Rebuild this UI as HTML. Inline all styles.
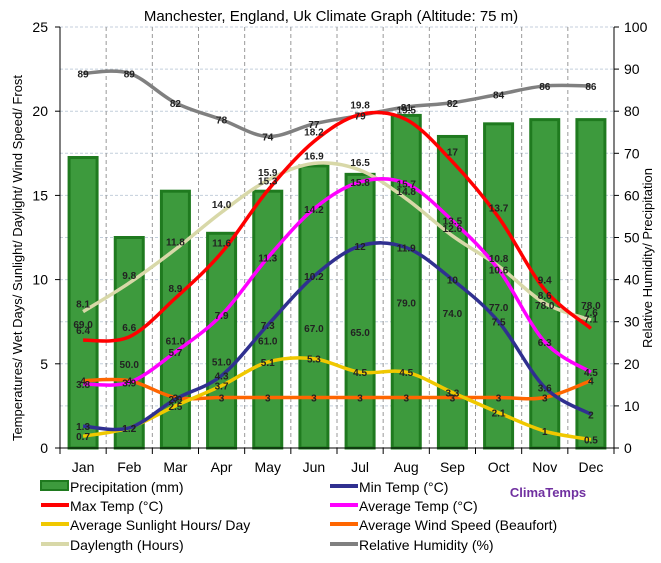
<!DOCTYPE html>
<html><head><meta charset="utf-8"><style>
body{margin:0;background:#fff;}
text{font-family:"Liberation Sans",sans-serif;}
</style></head><body>
<svg id="chart" width="661" height="558" xmlns="http://www.w3.org/2000/svg">
<rect width="661" height="558" fill="#fff"/>
<text x="331" y="21" text-anchor="middle" font-size="15">Manchester, England, Uk Climate Graph (Altitude: 75 m)</text>
<g id="grid"></g><g id="bars"></g><g id="lines"></g><g id="labels"></g><g id="axes"></g>
<text transform="translate(22,258) rotate(-90)" text-anchor="middle" font-size="13">Temperatures/ Wet Days/ Sunlight/ Daylight/ Wind Speed/ Frost</text>
<text transform="translate(652,258) rotate(-90)" text-anchor="middle" font-size="13">Relative Humidity/ Precipitation</text>
<g id="legend" font-size="14"></g>
<text x="548" y="497" text-anchor="middle" font-size="13" font-weight="bold" fill="#7030a0">ClimaTemps</text>
</svg>
<script>
const months=["Jan","Feb","Mar","Apr","May","Jun","Jul","Aug","Sep","Oct","Nov","Dec"];
const precip=[69,50,61,51,61,67,65,79,74,77,78,78];
const maxTemp=[6.4,6.6,8.9,11.6,15.3,18.2,19.8,19.5,17,13.7,9.4,7.1];
const minTemp=[1.3,1.2,2.9,4.3,7.3,10.2,12,11.9,10,7.5,3.6,2];
const avgTemp=[3.8,3.9,5.7,7.9,11.3,14.2,15.8,15.7,13.5,10.6,6.3,4.5];
const sunlight=[0.7,1.2,2.5,3.7,5.1,5.3,4.5,4.5,3.3,2.1,1.0,0.5];
const wind=[4,4,3,3,3,3,3,3,3,3,3,4];
const daylength=[8.1,9.8,11.8,14.0,15.9,16.9,16.5,14.8,12.6,10.8,8.6,7.6];
const humidity=[89,89,82,78,74,77,79,81,82,84,86,86];
const leftTicks=[0,5,10,15,20,25];
const rightTicks=[0,10,20,30,40,50,60,70,80,90,100];

const X0=60,X1=614,Y0=448,Y1=27,NS="http://www.w3.org/2000/svg";
const bw=(X1-X0)/12;
const xc=i=>X0+bw*(i+0.5);
const yL=v=>Y0-(v/25)*(Y0-Y1);
const yR=v=>Y0-(v/100)*(Y0-Y1);
function mk(tag,attrs,parent,txt){const e=document.createElementNS(NS,tag);for(const k in attrs)e.setAttribute(k,attrs[k]);if(txt!==undefined)e.textContent=txt;document.getElementById(parent).appendChild(e);return e;}

rightTicks.forEach(t=>{if(t>0){const g=mk('line',{x1:X0,x2:X1,y1:yR(t),y2:yR(t),stroke:'#c4cfdc','stroke-dasharray':'3,2','stroke-width':1},'grid');}});
for(let i=1;i<12;i++){const g=mk('line',{x1:X0+bw*i,x2:X0+bw*i,y1:Y1,y2:Y0,stroke:'#999','stroke-dasharray':'4,3','stroke-width':1},'grid');}

precip.forEach((v,i)=>{const r=mk('rect',{x:xc(i)-14,y:yR(v),width:28,height:Y0-yR(v),fill:'#3d9a3d',stroke:'#1f7a1f','stroke-width':3},'bars');});

function path(vals,yf){const p=vals.map((v,i)=>[xc(i),yf(v)]);let d='M'+p[0][0]+','+p[0][1];for(let i=0;i<p.length-1;i++){const a=p[Math.max(0,i-1)],b=p[i],c=p[i+1],e=p[Math.min(p.length-1,i+2)];d+=` C${b[0]+(c[0]-a[0])/6},${b[1]+(c[1]-a[1])/6} ${c[0]-(e[0]-b[0])/6},${c[1]-(e[1]-b[1])/6} ${c[0]},${c[1]}`;}return d;}
const series=[
 ['daylength-line',daylength,yL,'#d8d8a8'],
 ['humidity-line',humidity,yR,'#808080'],
 ['wind-line',wind,yL,'#ff6600'],
 ['sunlight-line',sunlight,yL,'#f0c800'],
 ['min-temp-line',minTemp,yL,'#303090'],
 ['avg-temp-line',avgTemp,yL,'#ff00ff'],
 ['max-temp-line',maxTemp,yL,'#ff0000']];
series.forEach(s=>{const e=mk('path',{d:path(s[1],s[2]),fill:'none',stroke:s[3],'stroke-width':3.5},'lines');});

function lbl(vals,yf,fmt,dy){vals.forEach((v,i)=>{const t=mk('text',{x:xc(i),y:yf(v)+dy,'text-anchor':'middle','font-size':10,'font-weight':'bold',fill:'#222'},'labels',fmt(v));});}
lbl(precip,v=>yR(v/2)+25,v=>v.toFixed(1),0);
lbl(maxTemp,yL,v=>String(v),-6);
lbl(minTemp,yL,v=>String(v),4);
lbl(avgTemp,yL,v=>String(v),4);
lbl(sunlight,yL,v=>String(v),4);
lbl(wind,yL,v=>String(v),4);
lbl(daylength,yL,v=>v.toFixed(1),-4);
lbl(humidity,yR,v=>String(v),4);

mk('line',{x1:X0,x2:X0,y1:Y1,y2:Y0,stroke:'#000'},'axes');
mk('line',{x1:X1,x2:X1,y1:Y1,y2:Y0,stroke:'#000'},'axes');
mk('line',{x1:X0,x2:X1,y1:Y0,y2:Y0,stroke:'#000'},'axes');
leftTicks.forEach(t=>{mk('line',{x1:X0-5,x2:X0,y1:yL(t),y2:yL(t),stroke:'#000'},'axes');const e=mk('text',{x:X0-12,y:yL(t)+5,'text-anchor':'end','font-size':14},'axes',t);});
rightTicks.forEach(t=>{mk('line',{x1:X1,x2:X1+5,y1:yR(t),y2:yR(t),stroke:'#000'},'axes');const e=mk('text',{x:X1+10,y:yR(t)+5,'font-size':14},'axes',t);});
for(let i=0;i<=12;i++)mk('line',{x1:X0+bw*i,x2:X0+bw*i,y1:Y0,y2:Y0+6,stroke:'#000'},'axes');
months.forEach((m,i)=>{const e=mk('text',{x:xc(i),y:472,'text-anchor':'middle','font-size':14},'axes',m);});

const leg=[['Precipitation (mm)','#3d9a3d',41,492,true],['Min Temp (°C)','#303090',330,492],['Max Temp (°C)','#ff0000',41,511],['Average Temp (°C)','#ff00ff',330,511],['Average Sunlight Hours/ Day','#f0c800',41,530],['Average Wind Speed (Beaufort)','#ff6600',330,530],['Daylength (Hours)','#d8d8a8',41,550],['Relative Humidity (%)','#808080',330,550]];
leg.forEach(l=>{if(l[4])mk('rect',{x:l[2],y:l[3]-11,width:27,height:9,fill:'#3d9a3d',stroke:'#1f7a1f','stroke-width':2},'legend');else mk('line',{x1:l[2],x2:l[2]+28,y1:l[3]-6,y2:l[3]-6,stroke:l[1],'stroke-width':4},'legend');const e=mk('text',{x:l[2]+29,y:l[3]},'legend',l[0]);});
</script>
</body></html>
